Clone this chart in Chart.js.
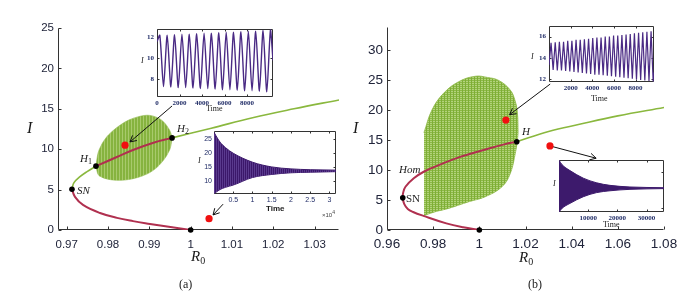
<!DOCTYPE html>
<html lang="en">
<head>
<meta charset="UTF-8">
<title>Bifurcation diagrams in R0</title>
<script src="https://cdn.jsdelivr.net/npm/chart.js@4.4.1/dist/chart.umd.min.js"></script>
<style>
  body { margin: 0; background: #fff; }
  #fig { position: relative; width: 696px; height: 296px; overflow: hidden; background: #fff; }
  #fig canvas { position: absolute; }
  .txt { position: absolute; white-space: nowrap; line-height: 1; color: #1a1a1a;
         font-family: "Liberation Serif", "DejaVu Serif", serif; }
  .it { font-style: italic; }
  .sub { font-style: normal; position: relative; }
  .sans { font-family: "Liberation Sans", Arial, sans-serif; }
</style>
</head>
<body>
<div id="fig">
  <canvas id="mainA" width="348" height="296" style="left:0;top:0"></canvas>
  <canvas id="mainB" width="348" height="296" style="left:348px;top:0"></canvas>
  <canvas id="insA1" width="150" height="95" style="left:130px;top:20px"></canvas>
  <canvas id="insA2" width="150" height="85" style="left:195px;top:125px"></canvas>
  <canvas id="insB1" width="140" height="80" style="left:525px;top:18px"></canvas>
  <canvas id="insB2" width="150" height="76" style="left:540px;top:152px"></canvas>

  <!-- panel (a) text -->
  <div class="txt it" style="left:27px;top:120px;font-size:16px">I</div>
  <div class="txt" style="left:191px;top:249px;font-size:15px"><span class="it">R</span><span class="sub" style="font-size:10px;top:3px">0</span></div>
  <div class="txt" style="left:179px;top:278px;font-size:12px">(a)</div>
  <div class="txt" style="left:80px;top:153px;font-size:11px"><span class="it">H</span><span class="sub" style="font-size:8px;top:2px">1</span></div>
  <div class="txt" style="left:177px;top:123px;font-size:11px"><span class="it">H</span><span class="sub" style="font-size:8px;top:2px">2</span></div>
  <div class="txt it" style="left:77px;top:185px;font-size:11px">SN</div>
  <div class="txt it" style="left:141px;top:57px;font-size:8px">I</div>
  <div class="txt" style="left:206px;top:105px;font-size:8px">Time</div>
  <div class="txt it" style="left:198px;top:157px;font-size:8px">I</div>
  <div class="txt sans" style="left:266px;top:205px;font-size:8px;font-weight:bold">Time</div>
  <div class="txt sans" style="left:322px;top:210px;font-size:6px;color:#444">&times;10<sup style="font-size:5px">4</sup></div>

  <!-- panel (b) text -->
  <div class="txt it" style="left:353px;top:120px;font-size:16px">I</div>
  <div class="txt" style="left:519px;top:250px;font-size:15px"><span class="it">R</span><span class="sub" style="font-size:10px;top:3px">0</span></div>
  <div class="txt" style="left:528px;top:278px;font-size:12px">(b)</div>
  <div class="txt it" style="left:522px;top:126px;font-size:11px">H</div>
  <div class="txt it" style="left:399px;top:164px;font-size:11px">Hom</div>
  <div class="txt" style="left:406px;top:193px;font-size:11px">SN</div>
  <div class="txt it" style="left:531px;top:53px;font-size:8px">I</div>
  <div class="txt" style="left:591px;top:95px;font-size:8px">Time</div>
  <div class="txt it" style="left:553px;top:180px;font-size:8px">I</div>
  <div class="txt" style="left:603px;top:221px;font-size:8px">Time</div>
</div>

<script>
// ---------------- panel (a): main diagram ----------------
const aLowR  = [0.97128, 0.97201, 0.97395, 0.97806, 0.98218, 0.98605, 0.99017, 0.99429, 1.0];
const aLowI  = [5.05, 4.1, 3.1, 2.1, 1.5, 1.1, 0.75, 0.42, 0];
const aUpR   = [0.97128, 0.97177, 0.97322, 0.97484, 0.97709];
const aUpI   = [5.05, 5.86, 6.6, 7.2, 7.9];
const aMidR  = [0.97709, 0.9820, 0.98605, 0.9910, 0.9955];
const aMidI  = [7.9, 9.0, 9.9, 10.8, 11.4];
const aHighR = [0.9955, 1.005, 1.015, 1.025, 1.0359];
const aHighI = [11.4, 12.6, 13.9, 15.0, 16.1];
// limit cycle envelope between H1 and H2
const aCycR   = [0.97709, 0.9775, 0.9783, 0.9795, 0.9810, 0.9830, 0.9850, 0.9872, 0.9895, 0.9915, 0.9932, 0.9945, 0.9952, 0.9955];
const aCycMax = [7.9, 9.3, 10.4, 11.4, 12.2, 13.0, 13.6, 14.0, 14.2, 14.0, 13.5, 12.7, 12.0, 11.4];
const aCycMin = [7.9, 7.0, 6.6, 6.35, 6.2, 6.15, 6.25, 6.5, 6.95, 7.6, 8.5, 9.5, 10.4, 11.4];
const aBifR = [0.97128, 0.97709, 0.9955, 1.0];
const aBifI = [5.05, 7.9, 11.4, 0];
const aSampleR = [0.98412, 1.00445];
const aSampleI = [10.5, 1.4];
const aArrow1R = [0.9955, 0.98533];
const aArrow1I = [15.35, 10.9];
const aArrow2R = [1.00785, 1.00542];
const aArrow2I = [3.2, 1.86];
const aXTicks  = [0.97, 0.98, 0.99, 1.0, 1.01, 1.02, 1.03];
const aXLabels = ['0.97', '0.98', '0.99', '1', '1.01', '1.02', '1.03'];
const aYTicks  = [0, 5, 10, 15, 20, 25];
const aYLabels = ['0', '5', '10', '15', '20', '25'];

// inset (a) top: periodic solution
const a1Start = [0, 11.6];
const a1PeakT   = [250, 905, 1560, 2215, 2870, 3525, 4180, 4835, 5490, 6145, 6800, 7455, 8110, 8765, 9420, 10075];
const a1PeakI   = [12.2, 12.2, 12.25, 12.3, 12.3, 12.35, 12.4, 12.4, 12.45, 12.5, 12.5, 12.55, 12.6, 12.6, 12.65, 12.7];
const a1TroughT = [580, 1235, 1890, 2545, 3200, 3855, 4510, 5165, 5820, 6475, 7130, 7785, 8440, 9095, 9750];
const a1TroughI = [7.3, 7.25, 7.2, 7.2, 7.15, 7.1, 7.1, 7.05, 7.0, 7.0, 6.95, 6.9, 6.9, 6.85, 6.8];
const a1End = [10300, 9.8];
const a1XTicks = [0, 2000, 4000, 6000, 8000];
const a1XLabels = ['0', '2000', '4000', '6000', '8000'];
const a1YTicks = [8, 10, 12];
const a1YLabels = ['8', '10', '12'];

// inset (a) bottom: damped oscillation envelope
const a2Time = [0, 500, 1560, 3000, 5000, 10000, 15000, 20000, 25000, 31700];
const a2Max  = [27.5, 26.3, 24.0, 22.0, 20.0, 16.8, 15.1, 14.4, 14.1, 13.95];
const a2Min  = [5.6, 6.0, 7.0, 7.8, 8.6, 11.3, 12.4, 13.0, 13.2, 13.4];
const a2XTicks = [5000, 10000, 15000, 20000, 25000, 30000];
const a2XLabels = ['0.5', '1', '1.5', '2', '2.5', '3'];
const a2YTicks = [10, 15, 20, 25];
const a2YLabels = ['10', '15', '20', '25'];

// ---------------- panel (b): main diagram ----------------
const bRedR = [1.0, 0.9930, 0.9857, 0.9758, 0.9713, 0.9690, 0.9675, 0.96683, 0.9670, 0.9680, 0.9716, 0.9759, 0.9824, 0.9911, 1.0026, 1.0112, 1.0162];
const bRedI = [0, 0.45, 1.1, 2.35, 3.0, 3.5, 4.3, 5.35, 6.2, 7.2, 8.6, 9.7, 10.8, 12.1, 13.4, 14.3, 14.7];
const bGreenR = [1.0162, 1.03, 1.0434, 1.06, 1.08];
const bGreenI = [14.7, 16.4, 17.6, 19.0, 20.4];
const bCycTopR = [0.9760, 0.9795, 0.9846, 0.9911, 0.9983, 1.0035, 1.0084, 1.0134, 1.0155, 1.0165, 1.0168];
const bCycTopI = [16.2, 20.0, 22.8, 24.7, 25.6, 25.4, 24.9, 23.3, 21.5, 19.5, 16.2];
const bCycBotR = [0.9760, 0.9810, 0.9867, 0.9954, 1.0026, 1.0098, 1.0134, 1.0156, 1.0164, 1.0168];
const bCycBotI = [2.4, 3.05, 3.6, 4.7, 5.55, 7.2, 9.4, 12.8, 14.7, 16.2];
const bBifR = [0.96683, 1.0162, 1.0];
const bBifI = [5.35, 14.7, 0];
const bSampleR = [1.0115, 1.0306];
const bSampleI = [18.3, 14.0];
const bArrow1R = [1.0307, 1.0131];
const bArrow1I = [24.3, 19.2];
const bArrow2R = [1.0306, 1.0506];
const bArrow2I = [14.0, 11.95];
const bXTicks  = [0.96, 0.98, 1.0, 1.02, 1.04, 1.06, 1.08];
const bXLabels = ['0.96', '0.98', '1', '1.02', '1.04', '1.06', '1.08'];
const bYTicks  = [0, 5, 10, 15, 20, 25, 30];
const bYLabels = ['0', '5', '10', '15', '20', '25', '30'];

// inset (b) top: growing oscillation
const b1Start = [0, 13.3];
const b1PeakT   = [190, 575, 960, 1345, 1730, 2115, 2500, 2885, 3270, 3655, 4040, 4425, 4810, 5195, 5580, 5965, 6350, 6735, 7120, 7505, 7890, 8275, 8660, 9045, 9430];
const b1PeakI   = [15.4, 15.45, 15.5, 15.5, 15.6, 15.6, 15.7, 15.7, 15.75, 15.8, 15.85, 15.9, 15.9, 16.0, 16.0, 16.1, 16.1, 16.15, 16.2, 16.25, 16.3, 16.35, 16.4, 16.45, 16.5];
const b1TroughT = [382, 767, 1152, 1537, 1922, 2307, 2692, 3077, 3462, 3847, 4232, 4617, 5002, 5387, 5772, 6157, 6542, 6927, 7312, 7697, 8082, 8467, 8852, 9237, 9622];
const b1TroughI = [12.85, 12.8, 12.8, 12.75, 12.7, 12.65, 12.6, 12.55, 12.5, 12.45, 12.4, 12.4, 12.35, 12.3, 12.25, 12.2, 12.15, 12.1, 12.05, 12.0, 11.95, 11.9, 11.85, 11.8, 11.75];
const b1End = [9700, 12.6];
const b1XTicks = [2000, 4000, 6000, 8000];
const b1XLabels = ['2000', '4000', '6000', '8000'];
const b1YTicks = [12, 14, 16];
const b1YLabels = ['12', '14', '16'];

// inset (b) bottom: damped oscillation envelope
const b2Time = [0, 1000, 3770, 8330, 12930, 17490, 24340, 36000];
const b2Max  = [23.2, 22.0, 20.3, 18.2, 16.9, 16.2, 15.75, 15.55];
const b2Min  = [8.8, 9.8, 11.2, 13.05, 14.2, 14.7, 15.1, 15.3];
const b2XTicks = [10000, 20000, 30000];
const b2XLabels = ['10000', '20000', '30000'];
const b2YTicks = [10, 20];
const b2YLabels = ['', ''];

// colours
const RED = '#b0304f';
const GREEN = '#8ab83e';
const PURPLE = '#4a2a84';
const DARK_PURPLE = '#3d1a6c';

// helpers
const pts = (xs, ys) => xs.map((x, i) => ({ x: x, y: ys[i] }));

function curve(xs, ys, color, width, extra) {
  return Object.assign({
    data: pts(xs, ys), showLine: true, borderColor: color, borderWidth: width,
    pointRadius: 0, tension: 0.4, fill: false
  }, extra || {});
}

function dots(xs, ys, color, r) {
  return {
    data: pts(xs, ys), showLine: false, pointRadius: r, pointBackgroundColor: color,
    pointBorderWidth: 0, clip: false
  };
}

function arrow(xs, ys) {
  return { data: pts(xs, ys), showLine: true, borderColor: '#111', borderWidth: 1,
           pointRadius: 0, tension: 0, fill: false, arrowHead: true, clip: false };
}

function zigzag(start, pT, pI, tT, tI, end) {
  const out = [{ x: start[0], y: start[1] }];
  pT.forEach((t, k) => {
    out.push({ x: t, y: pI[k] });
    if (k < tT.length) out.push({ x: tT[k], y: tI[k] });
  });
  out.push({ x: end[0], y: end[1] });
  return out;
}

function pattern(w, h, paint) {
  const c = document.createElement('canvas');
  c.width = w; c.height = h;
  const g = c.getContext('2d');
  paint(g);
  return g.createPattern(c, 'repeat');
}

const stripeGreen = pattern(3, 1, g => {
  g.fillStyle = '#86b33f'; g.fillRect(0, 0, 3, 1);
  g.fillStyle = '#a8ca6c'; g.fillRect(2, 0, 1, 1);
});
const meshGreen = pattern(3, 2, g => {
  g.fillStyle = '#b3d37c'; g.fillRect(0, 0, 3, 2);
  g.fillStyle = '#8bb845'; g.fillRect(0, 0, 3, 1);
  g.fillStyle = '#7eae36'; g.fillRect(0, 0, 1, 2);
});
const stripePurple = pattern(2, 1, g => {
  g.fillStyle = '#3b176a'; g.fillRect(0, 0, 2, 1);
  g.fillStyle = '#5a3a8e'; g.fillRect(1, 0, 1, 1);
});

// axes, inward ticks and arrow heads
const deco = {
  id: 'deco',
  beforeDatasetsDraw(chart, args, o) {
    const ctx = chart.ctx;
    const a = chart.chartArea;
    ctx.save();
    if (o.bg) {
      ctx.fillStyle = o.bg;
      ctx.fillRect(a.left, a.top, a.right - a.left, a.bottom - a.top);
    }
    const L = Math.round(a.left) + 0.5, R = Math.round(a.right) - 0.5;
    const T = Math.round(a.top) + 0.5, B = Math.round(a.bottom) - 0.5;
    ctx.strokeStyle = o.color;
    ctx.lineWidth = 1;
    ctx.beginPath();
    if (o.box) {
      ctx.rect(L, T, R - L, B - T);
    } else {
      ctx.moveTo(L, T); ctx.lineTo(L, B); ctx.lineTo(R, B);
    }
    const n = o.tick;
    const xs = chart.scales.x, ys = chart.scales.y;
    xs.ticks.forEach(t => {
      const p = Math.round(xs.getPixelForValue(t.value)) + 0.5;
      ctx.moveTo(p, B); ctx.lineTo(p, B - n);
      if (o.box) { ctx.moveTo(p, T); ctx.lineTo(p, T + n); }
    });
    ys.ticks.forEach(t => {
      const p = Math.round(ys.getPixelForValue(t.value)) + 0.5;
      ctx.moveTo(L, p); ctx.lineTo(L + n, p);
      if (o.box) { ctx.moveTo(R, p); ctx.lineTo(R - n, p); }
    });
    ctx.stroke();
    ctx.restore();
  },
  afterDatasetsDraw(chart) {
    const ctx = chart.ctx;
    ctx.save();
    ctx.strokeStyle = '#111';
    ctx.lineWidth = 1;
    chart.data.datasets.forEach((ds, i) => {
      if (!ds.arrowHead) return;
      const el = chart.getDatasetMeta(i).data;
      const p = el[el.length - 2], q = el[el.length - 1];
      const ang = Math.atan2(q.y - p.y, q.x - p.x);
      const len = 7, spread = 0.5;
      ctx.beginPath();
      ctx.moveTo(q.x - len * Math.cos(ang - spread), q.y - len * Math.sin(ang - spread));
      ctx.lineTo(q.x, q.y);
      ctx.lineTo(q.x - len * Math.cos(ang + spread), q.y - len * Math.sin(ang + spread));
      ctx.stroke();
    });
    ctx.restore();
  }
};

function build(id, o) {
  return new Chart(document.getElementById(id), {
    type: 'line',
    data: { datasets: o.datasets },
    plugins: [deco],
    options: {
      responsive: false,
      animation: false,
      events: [],
      layout: { padding: { top: o.padTop, right: o.padRight, left: 0, bottom: 0 } },
      elements: { point: { radius: 0 } },
      plugins: { legend: { display: false }, tooltip: { enabled: false }, deco: o.deco },
      scales: {
        x: {
          type: 'linear', min: o.xMin, max: o.xMax,
          grid: { display: false, drawTicks: false }, border: { display: false },
          ticks: { font: o.font, color: o.tickColor, padding: o.xPad, maxRotation: 0, autoSkip: false,
                   callback: (v, i) => o.xLabels[i] },
          afterBuildTicks: s => { s.ticks = o.xTicks.map(v => ({ value: v })); },
          afterFit: s => { s.height = o.xH; }
        },
        y: {
          type: 'linear', min: o.yMin, max: o.yMax,
          grid: { display: false, drawTicks: false }, border: { display: false },
          ticks: { display: o.yShow !== false, font: o.font, color: o.tickColor, padding: o.yPad, autoSkip: false,
                   callback: (v, i) => o.yLabels[i] },
          afterBuildTicks: s => { s.ticks = o.yTicks.map(v => ({ value: v })); },
          afterFit: s => { s.width = o.yW; }
        }
      }
    }
  });
}

const mainFontA = { family: '"Liberation Sans", Arial, sans-serif', size: 11.5 };
const mainFontB = { family: '"Liberation Sans", Arial, sans-serif', size: 13.5 };
const insetSerif = { family: '"Liberation Serif", serif', size: 7, weight: 'bold' };
const insetSans = { family: '"Liberation Sans", Arial, sans-serif', size: 7 };
const smooth = { cubicInterpolationMode: 'monotone' };

// panel (a)
build('mainA', {
  padTop: 28, padRight: 9, yW: 58, xH: 66, xPad: 8, yPad: 4,
  xMin: 0.9679, xMax: 1.0359, yMin: 0, yMax: 25,
  xTicks: aXTicks, xLabels: aXLabels, yTicks: aYTicks, yLabels: aYLabels,
  font: mainFontA, tickColor: '#20243a',
  deco: { box: false, tick: 3, color: '#333' },
  datasets: [
    dots(aSampleR, aSampleI, '#f01010', 3.6),
    dots(aBifR, aBifI, '#000', 2.8),
    arrow(aArrow1R, aArrow1I),
    arrow(aArrow2R, aArrow2I),
    curve(aMidR, aMidI, RED, 2),
    curve(aLowR, aLowI, RED, 2),
    curve(aUpR, aUpI, GREEN, 1.6),
    curve(aHighR, aHighI, GREEN, 1.6),
    curve(aCycR, aCycMax, '#8ab545', 0.6, Object.assign({ fill: '+1', backgroundColor: stripeGreen }, smooth)),
    curve(aCycR, aCycMin, '#8ab545', 0.6, smooth)
  ]
});

build('insA1', {
  padTop: 9, padRight: 7, yW: 27, xH: 18, xPad: 2, yPad: 3,
  xMin: 0, xMax: 10300, yMin: 6.3, yMax: 12.8,
  xTicks: a1XTicks, xLabels: a1XLabels, yTicks: a1YTicks, yLabels: a1YLabels,
  font: insetSerif, tickColor: '#1f2b66',
  deco: { box: true, tick: 2, color: '#333', bg: '#fff' },
  datasets: [
    { data: zigzag(a1Start, a1PeakT, a1PeakI, a1TroughT, a1TroughI, a1End), showLine: true,
      borderColor: PURPLE, borderWidth: 1.4, pointRadius: 0, tension: 0.25, fill: false }
  ]
});

build('insA2', {
  padTop: 6, padRight: 9, yW: 19, xH: 16, xPad: 2, yPad: 2,
  xMin: 0, xMax: 31700, yMin: 5.4, yMax: 27.9,
  xTicks: a2XTicks, xLabels: a2XLabels, yTicks: a2YTicks, yLabels: a2YLabels,
  font: insetSans, tickColor: '#1f2b66',
  deco: { box: true, tick: 2, color: '#333', bg: '#fff' },
  datasets: [
    curve(a2Time, a2Max, DARK_PURPLE, 1, Object.assign({ fill: '+1', backgroundColor: stripePurple }, smooth)),
    curve(a2Time, a2Min, DARK_PURPLE, 1, smooth)
  ]
});

// panel (b)
build('mainB', {
  padTop: 27, padRight: 32, yW: 39, xH: 66, xPad: 6, yPad: 4,
  xMin: 0.96, xMax: 1.08, yMin: 0, yMax: 33.8,
  xTicks: bXTicks, xLabels: bXLabels, yTicks: bYTicks, yLabels: bYLabels,
  font: mainFontB, tickColor: '#20243a',
  deco: { box: false, tick: 3, color: '#333' },
  datasets: [
    dots(bSampleR, bSampleI, '#f01010', 3.6),
    dots(bBifR, bBifI, '#000', 2.8),
    arrow(bArrow1R, bArrow1I),
    arrow(bArrow2R, bArrow2I),
    curve(bRedR, bRedI, RED, 2),
    curve(bGreenR, bGreenI, GREEN, 1.6),
    curve(bCycTopR, bCycTopI, '#8bb845', 0.8, { fill: '+1', backgroundColor: meshGreen }),
    curve(bCycBotR, bCycBotI, '#8bb845', 0.8)
  ]
});

build('insB1', {
  padTop: 8, padRight: 11, yW: 24, xH: 16, xPad: 2, yPad: 3,
  xMin: 0, xMax: 9700, yMin: 11.7, yMax: 17.0,
  xTicks: b1XTicks, xLabels: b1XLabels, yTicks: b1YTicks, yLabels: b1YLabels,
  font: insetSerif, tickColor: '#1f2b66',
  deco: { box: true, tick: 2, color: '#333', bg: '#fff' },
  datasets: [
    { data: zigzag(b1Start, b1PeakT, b1PeakI, b1TroughT, b1TroughI, b1End), showLine: true,
      borderColor: PURPLE, borderWidth: 1.2, pointRadius: 0, tension: 0, fill: false }
  ]
});

build('insB2', {
  padTop: 8, padRight: 26, yW: 19, xH: 16, xPad: 2, yPad: 2, yShow: false,
  xMin: 0, xMax: 36000, yMin: 8.8, yMax: 23.25,
  xTicks: b2XTicks, xLabels: b2XLabels, yTicks: b2YTicks, yLabels: b2YLabels,
  font: insetSerif, tickColor: '#1f2b66',
  deco: { box: true, tick: 2, color: '#333', bg: '#fff' },
  datasets: [
    curve(b2Time, b2Max, DARK_PURPLE, 1, Object.assign({ fill: '+1', backgroundColor: DARK_PURPLE }, smooth)),
    curve(b2Time, b2Min, DARK_PURPLE, 1, smooth)
  ]
});
</script>
</body>
</html>
